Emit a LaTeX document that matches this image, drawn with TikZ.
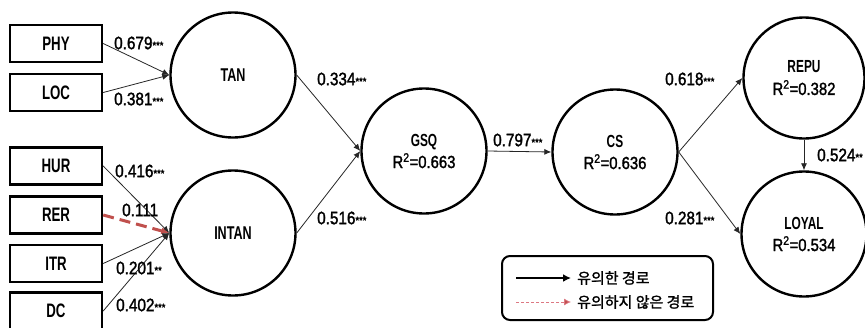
\documentclass[tikz,border=0pt]{standalone}
\usepackage{fontspec}
\setmainfont{Liberation Sans}[FakeStretch=0.85,FakeBold=1.6]
\newfontfamily\bfam{Liberation Sans}[FakeStretch=0.68]
\newfontfamily\kr{Noto Sans CJK KR}[FakeBold=1.5]
\usetikzlibrary{arrows.meta}
\definecolor{nsred}{RGB}{192,80,77}
\definecolor{nspink}{RGB}{220,120,130}
\newcommand\stars[1]{{\fontsize{11}{11}\selectfont #1}}
\begin{document}
\begin{tikzpicture}[x=1pt,y=-1pt,
  box/.style={draw, line width=2.4pt, minimum width=92pt, minimum height=37pt, inner sep=0pt,
    font=\bfam\bfseries\fontsize{19.5}{20}\selectfont},
  lv/.style={draw, circle, line width=2.4pt, minimum size=125pt, inner sep=0pt, align=center,
    font=\fontsize{17.5}{22}\selectfont},
  arr/.style={-{Latex[length=7pt,width=6pt]}, line width=0.8pt, draw=black!85},
  nsarr/.style={-{Latex[length=8pt,width=7pt]}, line width=3pt, draw=nsred, dash pattern=on 11pt off 6pt},
  coef/.style={anchor=west, inner sep=0pt, font=\fontsize{18}{18}\selectfont},
  nm/.style={font=\bfam\bfseries\fontsize{18}{20}\selectfont}
]
\useasboundingbox (0,0) rectangle (865,327);
\fill[white] (0,0) rectangle (865,327);

% indicator boxes
\node[box] (PHY) at (56,43.5) {PHY};
\node[box] (LOC) at (56,92.5) {LOC};
\node[box] (HUR) at (56,166) {HUR};
\node[box] (RER) at (56,215) {RER};
\node[box] (ITR) at (56,263.5) {ITR};
\node[box] (DC)  at (56,311) {DC};

% latent variables
\node[lv] (TAN) at (233,75) {{\bfam\bfseries\fontsize{18.5}{22}\selectfont TAN}};
\node[lv] (INTAN) at (233,233) {{\bfam\bfseries\fontsize{18.5}{22}\selectfont INTAN}};
\node[lv] (GSQ) at (424,151) {{\bfam\bfseries GSQ}\\R\textsuperscript{2}=0.663};
\node[lv] (CS) at (615,152) {{\bfam\bfseries CS}\\R\textsuperscript{2}=0.636};
\node[lv, minimum size=121pt] (REPU) at (804,78) {{\bfam\bfseries REPU}\\R\textsuperscript{2}=0.382};
\node[lv] (LOYAL) at (804,234) {{\bfam\bfseries LOYAL}\\R\textsuperscript{2}=0.534};

% paths
\draw[arr] (PHY.east) -- (TAN.west);
\draw[arr] (LOC.east) -- (TAN.west);
\draw[arr] (HUR.east) -- (INTAN.west);
\draw[nsarr] (RER.east) -- (INTAN.west);
\draw[arr] (ITR.east) -- (INTAN.west);
\draw[arr] (DC.east) -- (INTAN.west);
\draw[arr] (TAN.east) -- (GSQ.west);
\draw[arr] (INTAN.east) -- (GSQ.west);
\draw[arr] (GSQ.east) -- (CS.west);
\draw[arr] (CS.east) -- (REPU.west);
\draw[arr] (CS.east) -- (LOYAL.west);
\draw[arr] (REPU.south) -- (LOYAL.north);

% coefficients
\node[coef] (c1) at (114,43) {0.679\stars{***}};
\node[coef] (c2) at (114,99) {0.381\stars{***}};
\node[coef] (c3) at (115,171) {0.416\stars{***}};
\node[coef] (c4) at (122,210) {0.111};
\node[coef] (c5) at (116,268) {0.201\stars{**}};
\node[coef] (c6) at (116,305) {0.402\stars{***}};
\node[coef] (c7) at (317,79) {0.334\stars{***}};
\node[coef] (c8) at (317,218) {0.516\stars{***}};
\node[coef] (c9) at (493,140) {0.797\stars{***}};
\node[coef] (c10) at (665,79) {0.618\stars{***}};
\node[coef] (c11) at (665,218) {0.281\stars{***}};
\node[coef] (c12) at (817,155) {0.524\stars{**}};

% legend
\node[draw, rounded corners=8pt, line width=2pt, minimum width=211pt, minimum height=64pt, inner sep=0pt] (legend) at (607.5,288) {};
\coordinate (l1a) at (516,278);
\coordinate (l1b) at (571,278);
\coordinate (l2a) at (516,302);
\coordinate (l2b) at (571,302);
\draw[line width=2.5pt, -{Latex[length=8pt,width=8pt]}] (l1a) -- (l1b);
\draw[line width=0.8pt, draw=nspink, densely dashed, -{Latex[length=7pt,width=7pt,fill=nsred]}] (l2a) -- (l2b);
\node[anchor=west, inner sep=0pt, font=\kr\fontsize{15}{16}\selectfont] (t1) at (577,278) {유의한 경로};
\node[anchor=west, inner sep=0pt, font=\kr\fontsize{15}{16}\selectfont] (t2) at (577,302) {유의하지 않은 경로};
\end{tikzpicture}
\end{document}
